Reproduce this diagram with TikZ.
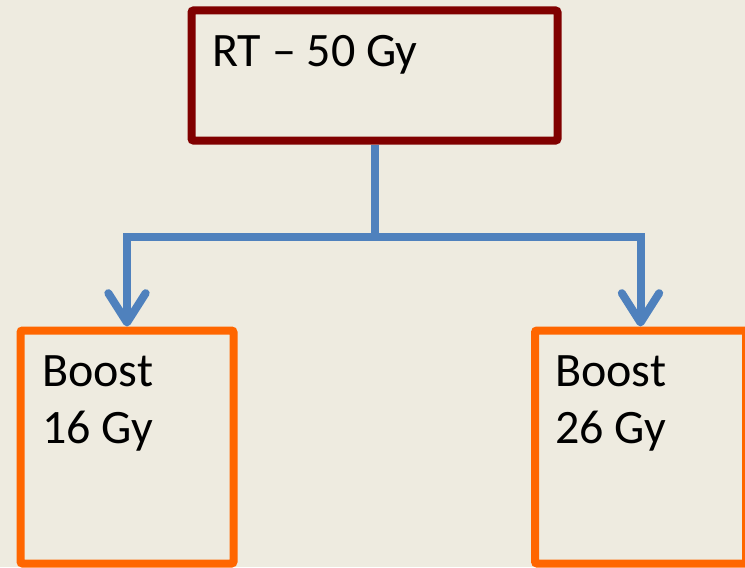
\documentclass[tikz,border=0pt]{standalone}
\usepackage{fontspec}
\setmainfont{Carlito}
\usepackage{tikz}
\usetikzlibrary{arrows.meta}
\definecolor{paper}{HTML}{EEEBE0}
\definecolor{rtred}{HTML}{800000}
\definecolor{boostorange}{HTML}{FF6600}
\definecolor{linkblue}{HTML}{4F81BD}

\begin{document}
\begin{tikzpicture}[x=0.75pt, y=-0.75pt,
    box/.style={shape=rectangle, line width=6pt, rounded corners=1.5pt, inner sep=0pt},
    txt/.style={inner sep=0pt, anchor=base west, align=left, font=\fontsize{36}{42.75}\selectfont},
    link/.style={draw=linkblue, line width=6pt}]
    \fill[paper] (0,0) rectangle (745,567);
    \useasboundingbox (0,0) rectangle (745,567);
    \node[box, draw=rtred, minimum width=274.5pt, minimum height=97.5pt] at (374.5,75.5) (RT) {};
    \node[box, draw=boostorange, minimum width=159.75pt, minimum height=174.75pt] at (127,447) (B16) {};
    \node[box, draw=boostorange, minimum width=158.25pt, minimum height=174.75pt] at (640.5,447) (B26) {};
    \coordinate (J) at (374.5,236.5);
    \path [link] (RT.south) -- (J);
    \path [link, -{Straight Barb[length=22pt, width=28pt, round]}] (J) -| (B16.north);
    \path [link, -{Straight Barb[length=22pt, width=28pt, round]}] (J) -| (B26.north);
    \node[txt] at (212,67) (RTtext) {RT – 50 Gy};
    \node[txt] at (42,443) (B16text) {Boost\\16 Gy};
    \node[txt] at (555,443) (B26text) {Boost\\26 Gy};
\end{tikzpicture}
\end{document}
